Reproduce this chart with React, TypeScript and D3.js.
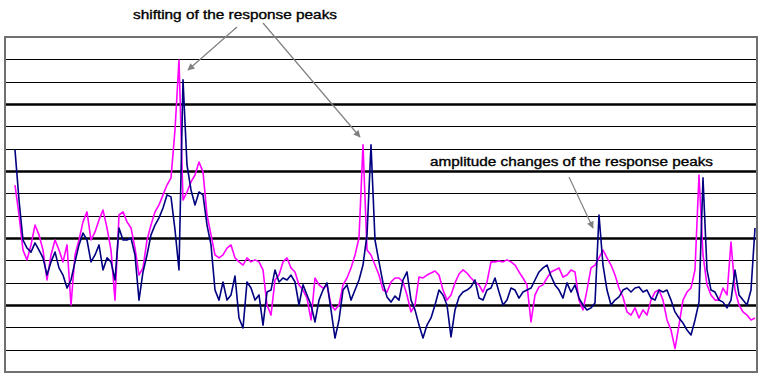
import React from "react";
import * as d3 from "d3";

// Two response traces sampled on a uniform grid (grid units, 0–15)
const navySeries: number[] = [
  9.94, 7.70, 5.91, 5.55, 5.37, 5.78, 5.46, 5.11, 4.34, 4.93,
  5.37, 4.66, 4.34, 3.76, 4.12, 4.93, 5.69, 6.22, 5.91, 4.93,
  5.24, 5.69, 4.57, 5.11, 4.93, 4.12, 6.45, 5.91, 5.91, 6.00,
  5.24, 3.22, 4.48, 5.24, 6.14, 6.58, 6.90, 7.34, 7.93, 7.84,
  6.36, 4.57, 13.08, 9.27, 8.15, 7.48, 8.06, 7.93, 6.58, 5.69,
  3.67, 3.22, 4.03, 3.22, 3.45, 4.30, 2.42, 1.97, 4.03, 3.76,
  3.22, 3.45, 2.10, 3.58, 3.67, 4.57, 4.03, 4.21, 4.12, 4.34,
  4.03, 3.00, 3.90, 3.45, 3.00, 2.24, 3.22, 3.67, 3.99, 2.78,
  1.52, 2.33, 3.67, 3.90, 3.22, 3.67, 4.12, 4.79, 6.14, 10.17,
  5.91, 4.93, 3.99, 3.36, 3.13, 3.40, 3.22, 4.12, 4.48, 3.22,
  2.78, 2.10, 1.52, 2.10, 2.42, 3.00, 3.67, 3.45, 3.00, 1.57,
  2.78, 3.36, 3.58, 3.67, 3.81, 4.12, 3.31, 3.22, 3.67, 3.76,
  4.21, 3.58, 3.00, 3.22, 3.76, 3.67, 3.31, 3.58, 3.67, 3.76,
  4.12, 4.48, 4.66, 4.79, 4.30, 3.90, 3.67, 3.31, 3.99, 3.58,
  3.90, 3.31, 3.00, 2.78, 2.87, 3.09, 7.03, 4.79, 3.67, 3.00,
  3.22, 3.36, 3.67, 3.76, 3.58, 3.76, 3.81, 3.58, 3.67, 3.31,
  3.22, 3.67, 3.58, 3.67, 3.22, 2.69, 2.42, 2.19, 1.88, 1.66,
  2.33, 3.13, 8.69, 4.57, 3.67, 3.58, 3.22, 3.13, 2.87, 3.22,
  4.57, 3.45, 3.22, 3.00, 3.67, 6.45,
];

const magentaSeries: number[] = [
  8.37, 7.03, 5.46, 5.02, 5.69, 6.58, 6.14, 5.46, 4.12, 5.24,
  5.91, 5.46, 4.93, 5.69, 3.00, 5.24, 5.91, 6.72, 7.17, 5.91,
  6.27, 6.81, 7.25, 6.45, 5.46, 3.22, 7.03, 7.17, 6.72, 6.45,
  5.55, 4.34, 4.66, 5.91, 6.58, 7.17, 7.48, 7.93, 8.37, 8.69,
  10.84, 13.97, 7.70, 8.06, 8.51, 8.82, 9.40, 8.96, 7.03, 6.14,
  5.24, 5.11, 5.24, 5.55, 5.69, 5.11, 4.93, 4.79, 5.11, 4.93,
  5.02, 4.93, 4.57, 3.00, 2.55, 4.12, 4.34, 4.93, 5.11, 4.66,
  4.48, 3.90, 3.67, 3.31, 2.33, 4.21, 3.90, 3.76, 3.90, 3.00,
  2.78, 3.00, 3.90, 4.21, 4.66, 5.24, 6.00, 10.17, 5.46, 5.24,
  4.79, 4.34, 3.67, 3.58, 4.03, 4.21, 4.21, 4.03, 3.45, 2.69,
  3.00, 4.25, 4.21, 4.34, 4.43, 4.52, 4.34, 3.67, 3.22, 3.45,
  3.99, 4.39, 4.57, 4.43, 4.21, 4.03, 3.90, 3.58, 4.03, 4.93,
  4.93, 4.97, 4.93, 5.02, 4.93, 4.79, 4.48, 4.21, 3.90, 2.24,
  3.45, 3.81, 3.90, 4.21, 4.48, 4.57, 4.66, 4.25, 4.34, 4.57,
  4.48, 3.22, 2.78, 3.67, 4.66, 4.79, 5.11, 5.46, 5.11, 4.79,
  4.34, 3.76, 3.36, 2.69, 2.55, 2.87, 2.42, 2.78, 2.55, 3.22,
  3.58, 3.67, 3.22, 2.33, 1.88, 1.05, 2.10, 3.22, 3.58, 3.76,
  4.57, 8.82, 5.24, 3.90, 3.45, 3.22, 3.22, 3.76, 3.45, 5.82,
  3.67, 3.00, 2.69, 2.55, 2.33, 2.42,
];

const gridValues: number[] = [1, 2, 3, 4, 5, 6, 7, 8, 9, 10, 11, 12, 13, 14];
const majorGridValues: number[] = [3, 6, 9, 12];

const annotationTop = "shifting of the response peaks";
const annotationMid = "amplitude changes of the response peaks";

export default function App() {
  const W = 760;
  const H = 377;
  const left = 5;
  const right = 757;
  const top = 37;
  const bottom = 372;

  const n = navySeries.length;
  const x = d3.scaleLinear().domain([0, n - 1]).range([15, 755]);
  const y = d3.scaleLinear().domain([0, 15]).range([bottom, top]);

  const line = d3
    .line<number>()
    .x((_, i) => x(i))
    .y((d) => y(d));

  const arrows = [
    { x1: 237, y1: 27, x2: 188, y2: 70 },
    { x1: 263, y1: 23, x2: 360, y2: 137 },
    { x1: 569, y1: 177, x2: 593, y2: 228 },
  ];

  return (
    <svg
      width={W}
      height={H}
      style={{ position: "absolute", left: 0, top: 0, background: "#fff" }}
    >
      <defs>
        <marker
          id="arrowHead"
          viewBox="0 0 10 10"
          refX="9"
          refY="5"
          markerWidth="9"
          markerHeight="7"
          markerUnits="userSpaceOnUse"
          orient="auto"
        >
          <path d="M0,0 L10,5 L0,10 z" fill="#808080" />
        </marker>
      </defs>
      <rect x={0} y={0} width={W} height={H} fill="#fff" />
      {gridValues.map((v) => (
        <line
          key={v}
          x1={left}
          x2={right}
          y1={Math.round(y(v)) + 0.5}
          y2={Math.round(y(v)) + 0.5}
          stroke="#000"
          strokeWidth={majorGridValues.includes(v) ? 2.6 : 1.1}
        />
      ))}
      <path
        d={line(magentaSeries) || ""}
        fill="none"
        stroke="#ff00ff"
        strokeWidth={1.6}
        strokeLinejoin="round"
      />
      <path
        d={line(navySeries) || ""}
        fill="none"
        stroke="#000080"
        strokeWidth={1.6}
        strokeLinejoin="round"
      />
      <rect
        x={left}
        y={top}
        width={right - left}
        height={bottom - top}
        fill="none"
        stroke="#707070"
        strokeWidth={2}
      />
      {arrows.map((a, i) => (
        <line
          key={i}
          x1={a.x1}
          y1={a.y1}
          x2={a.x2}
          y2={a.y2}
          stroke="#808080"
          strokeWidth={1.2}
          markerEnd="url(#arrowHead)"
        />
      ))}
      <text
        x={133}
        y={19}
        fontFamily="'Liberation Sans', Arial, sans-serif"
        fontSize={12.5}
        fill="#000"
        stroke="#000"
        strokeWidth={0.35}
        textLength={204}
        lengthAdjust="spacingAndGlyphs"
      >
        {annotationTop}
      </text>
      <rect x={428} y={155} width={288} height={14} fill="#fff" />
      <text
        x={430}
        y={166}
        fontFamily="'Liberation Sans', Arial, sans-serif"
        fontSize={12.5}
        fill="#000"
        stroke="#000"
        strokeWidth={0.35}
        textLength={283}
        lengthAdjust="spacingAndGlyphs"
      >
        {annotationMid}
      </text>
    </svg>
  );
}
